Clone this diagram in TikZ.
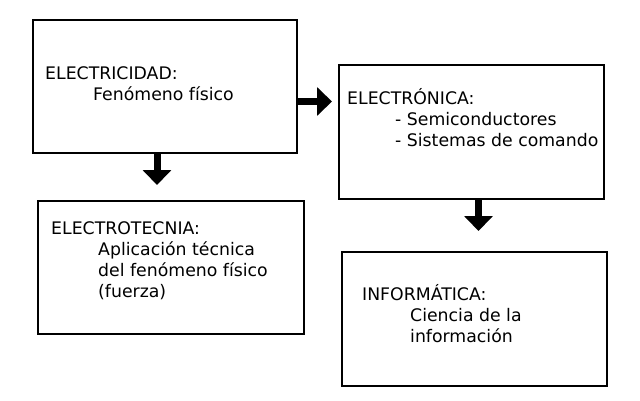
\documentclass[tikz,border=0pt]{standalone}
\usepackage{fontspec}
\setmainfont{DejaVu Sans}
\usetikzlibrary{arrows.meta}
\begin{document}
\begin{tikzpicture}[x=1pt,y=-1pt,
  box/.style={draw=black,line width=2.8pt,rectangle,inner sep=0pt,outer sep=0pt},
  txt/.style={anchor=base west,inner sep=0pt,font=\fontsize{17.3}{21}\selectfont},
  bigarrow/.style={line width=7pt,-{Triangle[width=28pt,length=15pt]}}]
\useasboundingbox[fill=white] (0,0) rectangle (640,400);
% boxes
\node[box,minimum width=264pt,minimum height=133pt] (b1) at (165,86.5) {};
\node[box,minimum width=265pt,minimum height=134pt] (b2) at (471.5,132) {};
\node[box,minimum width=266pt,minimum height=133pt] (b3) at (171,267.5) {};
\node[box,minimum width=265pt,minimum height=134pt] (b4) at (474.5,319) {};
% texts
\node[txt] (t1a) at (45,79) {ELECTRICIDAD:};
\node[txt] (t1b) at (93,100) {Fenómeno físico};
\node[txt] (t2a) at (347,104) {ELECTRÓNICA:};
\node[txt] (t2b) at (395,125) {- Semiconductores};
\node[txt] (t2c) at (395,146) {- Sistemas de comando};
\node[txt] (t3a) at (51,234) {ELECTROTECNIA:};
\node[txt] (t3b) at (98,255) {Aplicación técnica};
\node[txt] (t3c) at (98,276) {del fenómeno físico};
\node[txt] (t3d) at (98,297) {(fuerza)};
\node[txt] (t4a) at (362,300) {INFORMÁTICA:};
\node[txt] (t4b) at (410,321) {Ciencia de la};
\node[txt] (t4c) at (410,342) {información};
% arrows
\coordinate (e1) at (157,185);
\coordinate (e2) at (332,101.5);
\coordinate (e3) at (478.5,231);
\draw[bigarrow] (b1.south -| e1) -- (e1);
\draw[bigarrow] (b1.east |- e2) -- (e2);
\draw[bigarrow] (b2.south -| e3) -- (e3);
\end{tikzpicture}
\end{document}
